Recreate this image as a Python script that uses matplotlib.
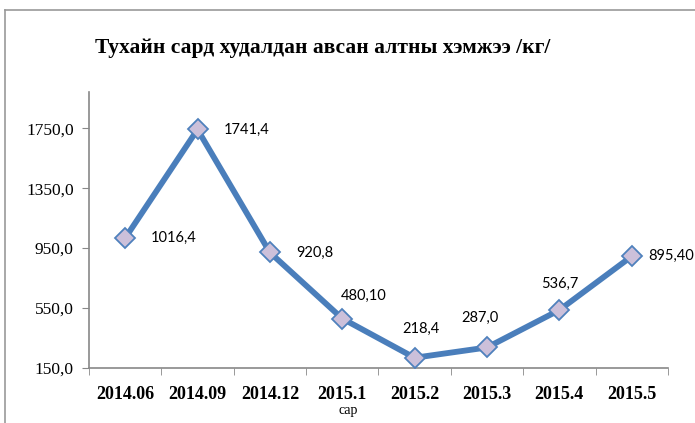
import matplotlib.pyplot as plt
from matplotlib.lines import Line2D

# data
months = ['2014.06', '2014.09', '2014.12', '2015.1', '2015.2', '2015.3', '2015.4', '2015.5']
gold_kg = [1016.4, 1741.4, 920.8, 480.10, 218.4, 287.0, 536.7, 895.40]
value_labels = ['1016,4', '1741,4', '920,8', '480,10', '218,4', '287,0', '536,7', '895,40']
yticks = [150, 550, 950, 1350, 1750]

fig = plt.figure(figsize=(6.95, 4.23), dpi=100)
ax = fig.add_axes([0.128, 0.130, 0.833, 0.652])

x = list(range(len(months)))
ax.plot(x, gold_kg, color='#4A7EBB', linewidth=4.2, marker='D', markersize=10,
        markerfacecolor='#CCC0DA', markeredgecolor='#4F81BD', markeredgewidth=1.3,
        zorder=3)

# label offsets in pixels (dx, dy), as placed in the original
offsets = [(26, 0), (26, 0), (26, 0), (21, 23), (6, 29), (-7, 30), (0, 26), (17, 0)]
for v, s, i, (dx, dy) in zip(gold_kg, value_labels, x, offsets):
    ax.annotate(s, (i, v), xytext=(dx * 0.72, dy * 0.72), textcoords='offset points',
                ha='left' if dy == 0 else 'center', va='center',
                fontsize=10.5, family='Lato')

ax.set_xlim(-0.5, 7.5)
ax.set_ylim(150, 1990)
ax.set_yticks(yticks)
ax.set_yticklabels([f'{t:.1f}'.replace('.', ',') for t in yticks],
                   family='Liberation Serif', fontsize=12.5)
ax.set_xticks(x)
ax.set_xticklabels(months, family='Liberation Serif', fontsize=13, fontweight='bold')
ax.set_xticks([i - 0.5 for i in range(len(months) + 1)], minor=True)
ax.tick_params(axis='x', which='major', length=0, pad=13)
ax.tick_params(axis='x', which='minor', length=5, color='#888888', direction='out')
ax.tick_params(axis='y', length=5, color='#888888', pad=6)

for side in ('top', 'right'):
    ax.spines[side].set_visible(False)
for side in ('left', 'bottom'):
    ax.spines[side].set_color('#888888')
    ax.spines[side].set_linewidth(1.2)

fig.text(95 / 695, 1 - 48 / 423, 'Тухайн сард худалдан авсан алтны хэмжээ /кг/',
         family='Liberation Serif', fontweight='bold', fontsize=15.5,
         ha='left', va='center')
fig.text(348 / 695, 1 - 410 / 423, 'сар', family='Liberation Serif', fontsize=10,
         ha='center', va='center')

# outer frame of the chart area
fig.add_artist(Line2D([5 / 695, 1], [1 - 10 / 423, 1 - 10 / 423], color='#999999', lw=1.2))
fig.add_artist(Line2D([5 / 695, 5 / 695], [0, 1 - 10 / 423], color='#999999', lw=1.2))

fig.savefig('out.png', dpi=100)
